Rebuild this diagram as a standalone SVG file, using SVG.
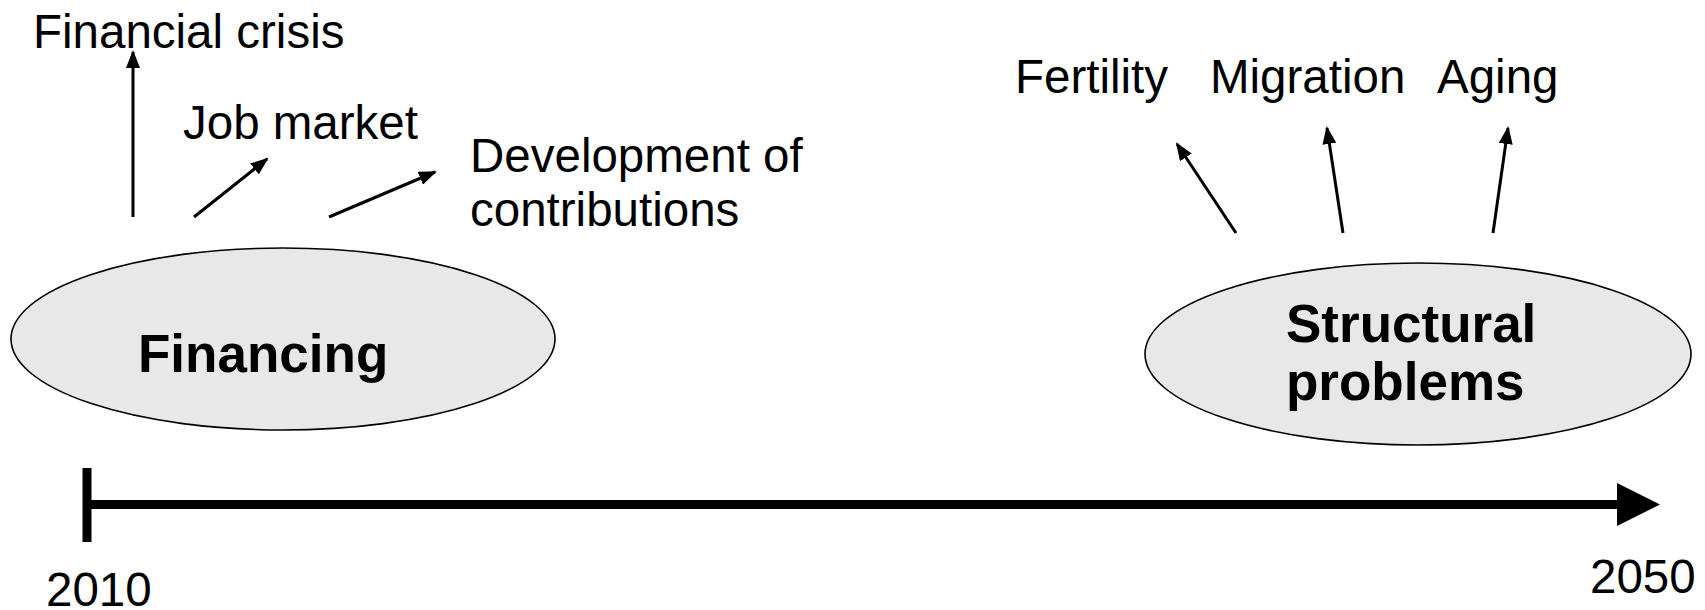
<svg xmlns="http://www.w3.org/2000/svg" width="1705" height="610" viewBox="0 0 1705 610">
  <style>
    .lbl { font-family: "Liberation Sans", Arial, sans-serif; font-size: 47.5px; fill: #000; }
    .node-text { font-family: "Liberation Sans", Arial, sans-serif; font-size: 53px; font-weight: bold; fill: #000; }
    .node-shape { fill: #e8e8e8; stroke: #000; stroke-width: 1.6; }
    .arrow { stroke: #000; stroke-width: 3; fill: none; marker-end: url(#head); }
    .axis { stroke: #000; stroke-width: 9; fill: none; }
  </style>
  <defs>
    <marker id="head" markerUnits="userSpaceOnUse" markerWidth="18" markerHeight="14" refX="16" refY="7" orient="auto">
      <path d="M0,0 L18,7 L0,14 Z" fill="#000"/>
    </marker>
  </defs>
  <rect width="1705" height="610" fill="#fff"/>

  <!-- factor labels -->
  <g id="labels">
    <text class="lbl" x="33" y="48">Financial crisis</text>
    <text class="lbl" x="183" y="139">Job market</text>
    <text class="lbl" x="470" y="172">Development of</text>
    <text class="lbl" x="470" y="226">contributions</text>
    <text class="lbl" x="1015" y="93">Fertility</text>
    <text class="lbl" x="1210" y="93">Migration</text>
    <text class="lbl" x="1437" y="93">Aging</text>
  </g>

  <g id="financing">
    <ellipse class="node-shape" cx="283" cy="339" rx="272" ry="91"/>
    <text class="node-text" x="138" y="372">Financing</text>
  </g>

  <g id="structural-problems">
    <ellipse class="node-shape" cx="1418" cy="354" rx="273" ry="91"/>
    <text class="node-text" x="1286" y="342">Structural</text>
    <text class="node-text" x="1286" y="400">problems</text>
  </g>

  <g id="connectors">
    <line class="arrow" x1="133" y1="217" x2="133" y2="52"/>
    <line class="arrow" x1="194" y1="217" x2="267" y2="159"/>
    <line class="arrow" x1="329" y1="217" x2="435" y2="172"/>
    <line class="arrow" x1="1236" y1="233" x2="1177" y2="144"/>
    <line class="arrow" x1="1343" y1="233" x2="1327" y2="128"/>
    <line class="arrow" x1="1493" y1="233" x2="1508" y2="128"/>
  </g>

  <!-- time axis -->
  <g id="timeline">
    <line class="axis" x1="87" y1="468" x2="87" y2="542"/>
    <line class="axis" x1="87" y1="504.5" x2="1622" y2="504.5"/>
    <polygon points="1617,483 1660,504.5 1617,526" fill="#000"/>
    <text class="lbl" x="46" y="606">2010</text>
    <text class="lbl" x="1590" y="593">2050</text>
  </g>
</svg>
